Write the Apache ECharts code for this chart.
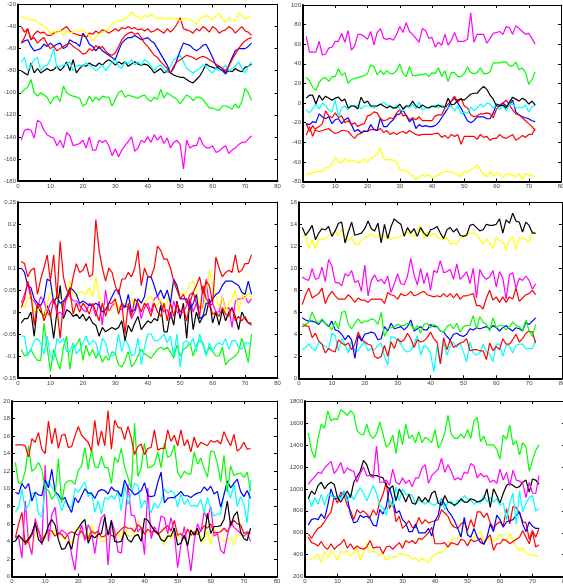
<!DOCTYPE html>
<html>
<head>
<meta charset="utf-8">
<script src="https://cdn.jsdelivr.net/npm/echarts@6.0.0/dist/echarts.min.js"></script>
<style>
  html, body { margin: 0; padding: 0; background: #fff; }
  #chart { width: 563px; height: 586px; }
</style>
</head>
<body>
<div id="chart"></div>
<script>
// panel 1 (top left)
var p1Yellow = [-31,-32,-33,-34,-34,-35,-38,-40,-42,-47,-44,-46,
  -43,-48,-44,-46,-45,-43,-45,-43,-46,-48,-53,-50,
  -47,-45,-44,-42,-38,-36,-35,-35,-33,-31,-27,-30,
  -31,-33,-30,-31,-29,-31,-33,-32,-33,-33,-32,-33,
  -33,-35,-33,-32,-34,-35,-38,-33,-31,-30,-32,-34,
  -30,-28,-33,-36,-32,-34,-35,-28,-30,-33,-32,-30]
var p1RedA = [-40,-45,-42,-52,-47,-44,-46,-45,-48,-48,-46,-45,
  -44,-42,-40,-44,-46,-47,-48,-48,-50,-46,-47,-44,
  -46,-43,-44,-46,-44,-42,-44,-41,-42,-40,-42,-41,
  -43,-42,-44,-42,-45,-44,-42,-44,-46,-42,-45,-42,
  -38,-32,-42,-43,-44,-46,-42,-44,-40,-42,-45,-40,
  -42,-46,-44,-43,-40,-42,-46,-43,-40,-44,-45,-48]
var p1RedB = [-55,-50,-42,-52,-50,-55,-52,-50,-56,-60,-58,-62,
  -60,-58,-56,-55,-58,-60,-62,-65,-64,-60,-62,-57,
  -60,-58,-62,-65,-66,-64,-58,-52,-48,-46,-45,-47,
  -46,-50,-55,-58,-62,-66,-68,-72,-75,-78,-82,-76,
  -72,-70,-68,-66,-67,-68,-70,-68,-67,-68,-70,-72,
  -74,-76,-78,-80,-76,-70,-65,-60,-56,-53,-51,-50]
var p1Blue = [-55,-53,-52,-58,-62,-61,-60,-56,-58,-55,-58,-56,
  -55,-60,-58,-52,-54,-55,-58,-46,-50,-56,-58,-62,
  -58,-62,-64,-66,-68,-70,-62,-55,-52,-50,-50,-48,
  -50,-52,-51,-50,-53,-55,-60,-65,-70,-75,-82,-78,
  -70,-62,-55,-56,-57,-60,-62,-60,-57,-56,-62,-68,
  -75,-78,-80,-83,-75,-68,-62,-60,-60,-60,-58,-55]
var p1Cyan = [-72,-68,-80,-75,-70,-68,-80,-76,-75,-70,-60,-78,
  -76,-75,-74,-72,-80,-76,-75,-76,-73,-75,-77,-80,
  -78,-75,-80,-76,-72,-70,-76,-78,-72,-74,-70,-75,
  -72,-75,-70,-72,-76,-80,-76,-75,-78,-82,-76,-70,
  -68,-66,-72,-78,-80,-82,-80,-78,-75,-76,-80,-82,
  -78,-80,-78,-75,-80,-78,-76,-72,-78,-82,-76,-72]
var p1Black = [-80,-82,-84,-73,-82,-78,-82,-80,-78,-80,-79,-76,
  -80,-77,-72,-80,-70,-82,-78,-75,-76,-73,-75,-76,
  -73,-75,-72,-70,-72,-75,-72,-74,-72,-76,-74,-72,
  -74,-75,-74,-75,-78,-82,-80,-78,-82,-80,-82,-84,
  -85,-86,-86,-88,-90,-91,-88,-85,-80,-74,-76,-77,
  -78,-76,-78,-82,-80,-81,-78,-80,-81,-77,-76,-74]
var p1Green = [-100,-97,-95,-88,-100,-103,-100,-102,-104,-110,-105,-103,
  -108,-94,-100,-102,-103,-104,-105,-112,-110,-103,-108,-104,
  -107,-103,-104,-104,-112,-106,-100,-98,-104,-102,-103,-104,
  -105,-103,-102,-106,-108,-104,-106,-97,-105,-100,-102,-104,
  -106,-110,-106,-102,-104,-107,-104,-104,-106,-110,-114,-114,
  -115,-116,-112,-112,-113,-115,-110,-114,-108,-96,-100,-107]
var p1Magenta = [-143,-134,-133,-134,-141,-125,-127,-134,-138,-140,-141,-148,
  -143,-150,-136,-139,-148,-147,-146,-143,-150,-140,-152,-152,
  -143,-145,-143,-148,-157,-151,-158,-152,-148,-144,-140,-153,
  -150,-143,-145,-140,-145,-138,-143,-139,-146,-141,-150,-145,
  -143,-147,-169,-143,-150,-148,-148,-140,-147,-150,-150,-148,
  -154,-153,-150,-148,-155,-152,-150,-147,-145,-145,-142,-139]

// panel 2 (top right)
var p2Magenta = [68,52,52,52,63,49,50,56,57,63,63,71,
  62,74,54,58,70,70,68,65,73,59,72,76,
  66,65,66,64,70,78,72,82,73,70,66,62,
  76,74,66,67,57,62,59,70,59,64,72,63,
  63,63,65,92,62,70,70,70,61,66,71,72,
  73,70,78,77,70,79,76,73,70,71,66,60]
var p2Green = [26,23,16,13,21,25,26,22,27,27,35,28,
  31,20,24,25,26,27,28,30,39,37,29,33,
  29,33,30,30,33,40,30,27,37,28,28,29,
  29,30,27,31,30,36,27,33,22,31,31,27,
  27,30,37,31,30,31,36,30,30,32,41,41,
  41,42,42,38,38,42,34,36,31,19,24,32]
var p2Black = [5,8,8,-1,8,3,7,5,3,5,6,2,
  4,-5,-3,-3,-6,6,0,2,-3,-3,-3,-1,
  -3,-5,-3,-5,-5,-1,-6,-3,-3,2,-3,-5,
  -2,-4,-5,-3,-4,-2,-4,-4,5,-2,-1,3,
  4,3,6,9,10,10,14,17,14,8,4,-3,
  -3,-2,-5,1,6,4,2,5,3,-1,2,-2]
var p2Cyan = [-7,-10,-6,-1,-6,0,-3,-7,-9,3,-14,-5,
  -3,-7,-2,-4,-2,-6,-3,-3,-3,-5,-3,-2,
  1,-2,-3,-6,-2,-6,-8,-3,-5,-1,-6,1,
  -7,-5,-5,-4,-2,-5,-2,-4,-5,-3,-8,-3,
  -11,-9,-11,-4,-8,-5,-1,-4,0,-1,-5,-2,
  -7,-2,-8,-1,-1,-5,-4,-5,-2,-9,-4,-2]
var p2RedA = [-33,-24,-34,-26,-24,-21,-8,-13,-15,-10,-15,-13,
  -20,-18,-22,-20,-24,-22,-21,-13,-12,-9,-10,-16,
  -18,-17,-15,-16,-10,-7,-13,-12,-17,-15,-17,-14,
  -18,-18,-18,-18,-13,-12,-12,-5,-1,2,7,1,
  5,-3,-5,-12,-14,-13,-11,-11,-10,-11,-15,-6,
  -3,0,3,-2,-7,-11,-12,-15,-18,-21,-24,-28]
var p2RedB = [-21,-29,-23,-28,-29,-28,-27,-26,-29,-31,-30,-28,
  -28,-29,-33,-36,-32,-31,-28,-29,-27,-27,-28,-26,
  -30,-28,-32,-30,-32,-30,-29,-31,-28,-30,-32,-33,
  -32,-32,-32,-32,-31,-31,-35,-33,-36,-32,-34,-32,
  -42,-34,-34,-34,-34,-37,-32,-35,-34,-38,-36,-36,
  -32,-35,-36,-34,-32,-38,-36,-33,-35,-32,-32,-26]
var p2Blue = [-21,-22,-19,-20,-11,-14,-16,-14,-21,-17,-16,-21,
  -17,-15,-22,-29,-27,-30,-29,-29,-22,-27,-28,-15,
  -24,-24,-20,-17,-12,-11,-7,-13,-19,-16,-26,-22,
  -24,-23,-24,-24,-23,-20,-15,-10,-5,2,5,0,
  -5,-12,-18,-20,-18,-14,-14,-14,-16,-16,-10,-1,
  -2,0,-3,-2,3,-9,-12,-14,-15,-16,-18,-19]
var p2Yellow = [-73,-72,-71,-70,-70,-70,-66,-66,-62,-55,-60,-61,
  -56,-60,-58,-59,-61,-60,-57,-60,-56,-55,-52,-46,
  -57,-58,-58,-58,-60,-68,-69,-69,-72,-74,-78,-76,
  -73,-75,-73,-76,-75,-73,-71,-70,-70,-70,-72,-73,
  -75,-69,-71,-68,-66,-63,-68,-73,-75,-70,-75,-71,
  -72,-76,-73,-72,-74,-75,-72,-78,-72,-73,-74,-75]

// panel 3 (middle left)
var p3RedA = [0.115,0.11,0.08,0.095,0.1,0.04,0.075,0.1,0.13,0.07,0.13,0.03,
  0.16,0.08,0.05,0.04,0.08,0.11,0.09,0.095,0.11,0.08,0.085,0.21,
  0.14,0.1,0.07,0.1,0.09,0.06,0.04,0.075,0.075,0.09,0.08,0.1,
  0.14,0.06,0.1,0.08,0.08,0.1,0.15,0.14,0.12,0.12,0.1,0.07,
  0.05,0.03,0.04,0.02,0.04,0.045,0.06,0.08,0.04,0.07,0.06,0.02,
  0.125,0.1,0.08,0.09,0.095,0.09,0.13,0.09,0.095,0.11,0.11,0.13]
var p3RedB = [0.01,0.03,0.07,0.04,-0.03,0.02,0.01,-0.02,0,-0.01,0.03,0.01,
  -0.06,0.02,0.03,0.05,-0.005,0.02,0,0.02,0.01,-0.005,0.02,0,
  -0.02,0.02,-0.01,0.02,0.02,0.03,-0.005,0.02,-0.05,0.02,-0.01,0.03,
  0.02,0,0.02,0.01,-0.01,0.02,0,-0.01,0.02,-0.02,0.02,-0.01,
  0.02,0,0.01,-0.02,0.02,0.045,0.02,-0.01,0.06,0.03,0.02,-0.005,
  0,-0.01,0.01,-0.005,-0.01,0.01,-0.02,-0.01,-0.02,-0.01,-0.025,-0.03]
var p3Blue = [0.1,0.09,0.06,0.055,0.03,0.02,0.015,0.03,0.075,0.07,0.02,0.035,
  0.02,0.025,0.035,0.055,0.05,0.04,0.02,0.025,0.02,0.015,0.015,0.02,
  0.015,0,0.005,0.02,0.035,0.05,0.05,0.02,0.01,0.04,0,0.005,
  0.03,0.02,0.035,0.08,0.08,0.06,0.035,0.05,0.03,0.05,0.02,0.075,
  0.06,0.03,0.03,0.03,0.005,0.02,0.04,-0.015,-0.01,0.02,0.02,0.03,
  0.04,0.045,0.06,0.07,0.07,0.07,0.065,0.06,0.045,0.04,0.07,0.04]
var p3Yellow = [0.02,0.01,0.03,0.04,0,0.005,0.01,-0.02,0.02,0.045,0.04,0.03,
  0.03,0.02,0.035,0.07,0.04,0.035,0.045,0.045,0.04,0.055,0.035,0.08,
  0.035,0.02,0.01,0,0.005,0.02,0.01,0.02,0.02,0.015,0.03,0.015,
  0.02,0.025,0.015,0.03,0.035,0.02,0.015,0.03,0.01,0.02,0.045,0.06,
  0.065,0.04,0.04,0.045,0.065,0.07,0.05,0.015,0.005,0.045,0.095,0.06,
  0.04,0.01,0.035,0,0.02,0.03,0.05,0,0.04,0.03,0.045,0.03]
var p3Magenta = [0.02,0.04,0.065,0.03,0.025,0.01,0.035,0.025,0,0.02,0.03,-0.005,
  0,-0.01,0.04,0.035,0.025,0.025,0.015,0.005,0,0.02,0.015,-0.01,
  0.025,-0.03,0.05,0,0.015,0.02,0.01,0.005,0.015,0.01,-0.015,0,
  0.02,-0.015,0.01,0.02,0,0.03,0.035,0.02,0,0.005,-0.015,0.025,
  0,-0.005,0,0.015,0.03,0,0.02,0.01,0.01,0.075,0.01,0.02,
  0,0,0.035,0.005,0.01,-0.035,0.025,0.03,0.03,0.035,0.02,0.03]
var p3Black = [-0.025,-0.015,-0.015,0,-0.055,0.015,0,-0.01,0.015,-0.005,-0.06,0,
  0.06,-0.015,0.005,0,-0.01,-0.005,-0.015,-0.005,-0.02,-0.01,-0.025,-0.03,
  -0.055,-0.035,-0.045,-0.04,-0.035,-0.04,-0.035,-0.02,-0.065,-0.03,-0.045,-0.025,
  -0.01,-0.04,-0.03,-0.02,-0.025,-0.015,-0.02,0.015,-0.045,-0.045,0,-0.03,
  0.025,-0.015,0.02,-0.06,0.03,-0.04,0,-0.025,-0.01,-0.005,0.03,-0.025,
  0,-0.03,0.005,-0.02,0,0.01,-0.01,-0.04,0,-0.015,-0.025,-0.025]
var p3Cyan = [-0.055,-0.055,-0.1,-0.085,-0.065,-0.06,-0.07,-0.095,-0.055,-0.1,-0.11,-0.06,
  -0.07,-0.06,-0.09,-0.09,-0.07,-0.095,-0.085,-0.07,-0.055,-0.075,-0.065,-0.07,
  -0.1,-0.06,-0.07,-0.1,-0.1,-0.095,-0.05,-0.09,-0.06,-0.075,-0.1,-0.095,
  -0.06,-0.12,-0.08,-0.05,-0.05,-0.065,-0.065,-0.06,-0.05,-0.07,-0.055,-0.1,
  -0.05,-0.125,-0.07,-0.065,-0.075,-0.06,-0.09,-0.05,-0.075,-0.1,-0.07,-0.09,
  -0.075,-0.07,-0.075,-0.06,-0.085,-0.065,-0.065,-0.08,-0.085,-0.07,-0.07,-0.075]
var p3Green = [-0.085,-0.1,-0.095,-0.085,-0.1,-0.11,-0.11,-0.025,-0.08,-0.135,-0.085,-0.11,
  -0.13,-0.08,-0.055,-0.13,-0.08,-0.075,-0.06,-0.11,-0.075,-0.1,-0.085,-0.105,
  -0.09,-0.115,-0.1,-0.11,-0.09,-0.095,-0.12,-0.125,-0.11,-0.09,-0.125,-0.115,
  -0.1,-0.085,-0.095,-0.1,-0.105,-0.095,-0.085,-0.08,-0.085,-0.08,-0.09,-0.105,
  -0.075,-0.1,-0.085,-0.08,-0.07,-0.1,-0.075,-0.065,-0.07,-0.095,-0.08,-0.09,
  -0.1,-0.1,-0.08,-0.12,-0.11,-0.105,-0.1,-0.09,-0.06,-0.085,-0.115,-0.05]

// panel 4 (middle right)
var p4Black = [13.7,13.0,13.4,13.9,12.6,13.2,13.6,13.5,13.8,12.9,13.4,14.1,
  14.2,12.3,13.3,14.2,13.0,13.1,13.2,13.6,14.3,13.6,13.4,14.1,
  12.3,14.0,12.7,13.8,14.5,14.2,14.0,12.9,13.7,13.2,13.6,12.9,
  13.7,13.2,12.9,13.5,13.6,13.8,13.2,12.7,13.5,13.7,13.3,13.6,
  13.0,12.9,13.0,13.9,14.0,13.7,13.4,13.5,14.0,13.9,13.9,14.0,
  14.5,13.2,14.4,14.1,15.0,14.3,14.2,13.3,14.2,13.9,13.2,13.2]
var p4Yellow = [12.9,13.0,11.8,12.6,11.8,12.6,12.6,12.7,13.0,13.1,13.4,13.0,
  13.6,12.9,12.5,12.8,12.2,12.1,12.5,12.8,12.9,13.2,12.8,12.9,
  13.1,12.8,13.0,12.6,12.8,12.8,12.9,13.2,13.3,13.0,12.9,13.4,
  13.9,12.7,13.3,12.9,13.2,12.9,12.6,12.6,12.8,12.2,12.3,12.2,
  12.7,12.8,13.2,13.2,13.2,13.1,12.6,12.2,12.7,12.3,11.8,12.8,
  12.5,12.4,11.7,12.6,12.9,11.7,12.8,12.7,12.6,12.4,13.3,13.1]
var p4Magenta = [9.2,9.0,8.9,10.0,9.0,9.1,10.1,8.8,10.8,10.2,8.7,8.7,
  8.4,9.5,9.3,9.8,8.7,8.9,7.9,10.3,7.5,8.9,9.4,8.8,
  9.0,8.6,9.3,7.8,8.6,9.5,8.6,8.5,9.3,10.9,9.4,8.5,
  10.0,8.6,9.6,8.0,9.8,9.6,10.7,9.6,9.7,9.9,9.0,10.4,
  9.0,9.3,9.7,8.6,10.0,7.3,9.9,9.3,9.0,9.2,9.8,8.3,
  9.7,9.1,7.2,9.4,9.6,8.2,9.1,8.9,9.3,8.9,8.1,8.6]
var p4RedA = [6.7,7.6,8.2,7.3,7.5,7.7,8.2,6.8,7.5,7.9,7.5,7.2,
  7.2,7.2,7.6,7.3,6.9,7.3,7.1,7.1,6.9,7.2,7.2,7.2,
  7.2,6.8,7.8,7.6,7.5,7.2,7.7,7.5,7.6,7.9,7.5,7.6,
  7.8,7.9,7.6,7.5,7.4,7.5,7.4,7.7,7.4,7.7,7.3,7.7,
  7.2,7.5,7.5,7.6,7.7,6.6,6.6,6.3,7.3,8.0,7.1,7.4,
  6.9,7.4,6.9,7.4,7.2,8.2,7.0,7.3,7.6,7.7,8.0,7.6]
var p4Green = [4.9,4.9,5.1,6.0,5.3,5.0,5.4,5.0,4.8,4.4,5.2,4.5,
  6.0,6.1,4.9,4.5,5.0,5.4,5.0,5.2,5.2,5.4,5.3,4.9,
  6.0,3.8,4.5,4.6,4.7,4.9,4.8,4.8,5.0,4.9,4.4,4.8,
  4.1,4.9,5.0,4.6,4.9,4.7,4.3,4.2,4.7,4.9,4.5,5.0,
  4.2,4.7,4.8,4.8,5.7,4.5,5.6,5.1,4.9,4.3,5.5,4.6,
  4.8,4.8,4.4,4.7,5.1,4.8,4.7,4.3,5.3,4.3,3.8,4.9]
var p4Blue = [5.5,5.3,5.2,5.2,5.1,4.9,5.3,5.0,4.7,5.2,4.4,4.3,
  4.0,3.5,3.9,3.5,1.8,3.9,3.4,4.0,4.1,4.2,4.1,3.5,
  3.6,4.7,4.3,5.0,4.5,4.6,4.7,4.4,4.7,5.3,4.3,4.5,
  4.7,4.4,4.4,4.9,4.7,4.7,4.3,4.2,3.8,3.5,4.0,4.1,
  3.9,3.8,4.0,4.5,4.4,4.6,4.5,4.6,4.7,4.5,4.8,4.6,
  4.3,4.6,4.8,4.5,4.3,4.6,4.5,4.3,5.1,4.9,5.2,5.5]
var p4RedB = [4.7,4.8,4.7,3.7,4.1,3.4,3.1,2.3,2.7,2.5,2.4,3.5,
  3.2,3.0,3.2,2.6,3.1,4.2,3.5,3.3,3.1,3.0,2.0,1.8,
  2.0,3.0,2.0,3.3,2.7,3.6,3.3,3.5,4.1,3.6,2.8,3.5,
  3.3,3.4,3.7,4.2,3.6,3.3,1.3,3.7,2.6,3.5,2.8,3.0,
  3.2,3.3,3.6,2.5,2.6,2.6,2.5,2.5,1.7,3.2,2.5,2.9,
  2.6,3.6,3.1,3.1,3.5,4.0,3.3,3.6,4.1,4.3,4.2,3.2]
var p4Cyan = [2.6,2.8,3.1,2.7,2.5,3.3,3.1,2.9,2.6,4.1,3.9,2.5,
  3.6,3.1,2.3,3.4,2.5,2.5,3.0,3.3,2.5,2.7,2.6,3.0,
  3.2,2.0,1.2,3.8,3.7,3.5,3.1,2.6,2.4,2.5,3.1,3.9,
  2.1,3.0,2.8,2.3,0.6,2.9,1.3,3.3,2.1,2.9,3.3,2.8,
  3.2,2.4,1.5,3.3,2.3,2.1,2.3,3.1,2.4,2.2,1.5,3.1,
  3.1,2.0,3.0,2.9,2.3,3.0,3.1,3.1,2.7,2.7,2.7,3.5]

// panel 5 (bottom left)
var p5RedA = [15.0,15.0,15.0,14.9,13.6,15.7,15.3,16.4,14.5,14.0,17.7,15.1,
  16.9,14.6,16.1,16.2,14.7,14.8,16.0,17.1,16.1,15.7,15.3,14.3,
  17.8,14.9,16.6,14.9,18.9,14.5,17.8,17.0,16.9,15.6,17.1,15.8,
  13.9,14.8,15.1,13.9,14.6,14.7,16.7,14.4,14.6,14.6,16.7,15.4,
  16.1,14.9,16.7,14.9,15.6,14.2,15.9,14.7,15.3,15.1,14.9,15.5,
  15.3,15.5,15.1,16.5,15.6,14.9,16.2,14.3,14.6,15.3,14.5,14.6]
var p5Green = [13.0,10.6,10.7,12.0,14.9,12.0,12.3,13.0,12.2,10.0,9.8,8.8,
  9.3,13.4,8.4,10.6,10.9,10.9,10.5,12.1,12.6,14.7,12.2,14.5,
  12.5,12.4,13.7,12.4,12.4,10.6,13.6,13.0,14.6,12.5,11.3,10.0,
  17.5,11.4,12.4,15.2,12.4,12.5,12.8,14.2,12.4,15.2,13.6,13.8,
  15.0,11.9,11.2,12.0,11.7,11.7,14.2,12.8,13.5,12.3,11.3,14.3,
  14.2,12.9,10.8,13.8,9.6,12.6,11.5,11.7,11.8,11.3,11.9,9.8]
var p5Blue = [9.6,9.4,10.6,10.0,10.6,8.6,9.6,9.3,9.2,11.0,10.1,12.2,
  9.7,9.3,8.7,9.0,8.0,7.3,9.0,8.4,9.2,10.0,9.5,9.5,
  8.9,9.7,9.9,9.8,9.4,10.2,9.8,9.7,9.1,11.0,10.1,9.8,
  9.3,9.5,9.8,10.7,9.2,9.1,9.2,10.7,11.9,8.4,8.9,9.0,
  9.0,9.3,9.7,9.2,9.2,9.0,9.3,9.5,9.6,10.2,9.8,10.3,
  9.4,9.7,7.9,9.3,10.9,10.1,10.6,11.1,9.7,9.1,9.8,8.9]
var p5Cyan = [7.3,7.9,9.9,7.6,8.1,9.4,9.6,7.1,6.8,9.8,10.9,10.2,
  9.6,8.8,7.5,8.6,8.2,7.8,10.0,9.6,10.2,10.8,9.1,9.6,
  7.3,8.6,7.1,9.0,8.8,9.2,8.8,9.8,7.5,10.5,8.2,9.5,
  10.6,10.4,7.8,8.7,7.9,7.3,8.4,7.8,8.5,10.0,9.5,9.8,
  9.5,7.9,9.4,8.2,8.8,8.0,8.1,8.0,8.8,7.3,9.0,7.7,
  6.9,7.1,7.1,9.6,10.1,8.9,10.6,8.0,9.1,8.3,6.1,11.0]
var p5Magenta = [4.6,4.4,2.1,8.6,3.9,2.5,6.6,5.3,3.6,12.7,4.0,7.0,
  7.9,4.7,5.3,5.0,4.6,2.5,0.7,4.4,5.9,4.1,5.9,5.1,
  2.6,5.2,6.7,7.1,1.3,6.4,5.2,2.8,2.7,6.0,10.5,7.0,
  6.9,5.1,5.6,2.5,10.1,4.3,5.7,4.8,6.9,6.7,4.9,6.7,
  5.0,1.0,3.6,5.7,3.3,0.6,4.0,6.0,5.1,7.3,6.6,8.0,
  4.6,4.9,3.0,2.6,4.6,6.3,5.6,5.3,4.9,4.6,5.0,4.0]
var p5Black = [4.0,4.7,4.3,3.9,4.3,4.9,6.1,4.2,3.8,4.6,5.8,6.5,
  5.9,4.2,3.1,3.2,4.0,3.1,5.0,5.5,6.1,6.5,3.8,4.7,
  4.4,4.8,4.9,6.8,4.7,6.4,4.0,3.9,4.0,5.1,4.2,3.9,
  4.6,4.8,4.0,6.6,6.4,5.8,5.2,5.0,4.2,4.0,4.6,4.6,
  5.5,3.6,3.8,4.7,3.5,5.3,4.7,5.5,4.0,4.5,7.2,4.9,
  5.7,5.7,5.8,6.5,8.6,5.8,6.9,7.4,5.1,4.3,4.1,5.5]
var p5RedB = [4.4,6.0,7.3,3.6,4.1,4.7,5.9,5.2,4.2,4.7,5.3,5.2,
  4.6,5.0,4.8,4.3,4.9,5.1,4.9,4.7,5.2,4.5,4.3,5.2,
  4.9,5.2,4.5,4.6,5.1,4.7,4.5,5.0,5.4,5.7,5.5,5.5,
  5.1,5.9,5.6,4.8,5.4,5.0,5.2,4.8,5.1,5.5,5.8,5.2,
  6.4,4.7,4.9,4.3,5.4,4.7,5.1,4.8,5.2,5.8,5.5,6.0,
  5.0,5.0,5.1,5.5,5.1,5.8,6.4,6.0,5.9,4.9,5.1,4.9]
var p5Yellow = [4.6,4.3,4.0,3.6,4.3,2.5,4.9,5.3,5.0,4.5,4.2,5.0,
  5.2,4.6,4.7,4.2,4.1,3.8,5.0,5.7,4.8,4.2,4.4,5.9,
  4.8,4.6,4.0,4.0,4.2,4.7,4.9,5.0,4.3,5.9,4.6,4.6,
  4.9,6.4,4.9,5.2,5.0,5.2,5.1,4.9,4.4,3.6,5.0,4.3,
  4.9,4.5,4.7,4.4,3.7,5.3,4.9,5.2,4.6,3.9,5.2,3.6,
  5.5,4.8,4.4,4.0,4.2,4.4,3.6,4.7,4.7,4.6,4.5,4.4]

// panel 6 (bottom right)
var p6Green = [1510,1350,1280,1460,1590,1550,1710,1620,1640,1630,1720,1700,
  1670,1710,1680,1530,1500,1490,1590,1490,1460,1500,1610,1500,
  1380,1410,1490,1320,1540,1400,1590,1460,1490,1420,1520,1420,
  1470,1450,1420,1540,1370,1420,1510,1670,1500,1460,1460,1500,
  1460,1540,1460,1620,1650,1430,1480,1400,1400,1400,1360,1270,
  1490,1450,1580,1400,1440,1310,1420,1380,1160,1260,1350,1400]
var p6Magenta = [1040,1080,1110,1150,1140,1190,1220,1250,1140,1180,1240,1140,
  1190,1170,1160,1060,1140,1200,1120,1120,1100,1390,1060,1060,
  1080,1030,1180,1060,1040,1100,1050,1080,1020,1100,1100,1190,
  1220,1050,1120,1150,1180,1280,1150,1220,1160,1080,1100,1080,
  1150,1140,1230,1210,1100,1140,1110,1120,1060,1080,1050,1180,
  1080,1150,1030,1170,1080,1070,1050,920,1060,960,960,1120]
var p6Black = [910,980,950,1030,1060,1000,1040,1060,1040,920,880,930,
  980,920,1060,1110,1160,1260,1220,1130,1120,1120,1110,1100,
  1030,1000,1030,890,1000,950,880,950,870,860,930,880,
  920,880,960,980,870,850,940,880,870,850,870,910,
  880,880,910,900,880,890,910,1000,830,1000,940,870,
  960,1030,1050,1030,1010,1020,1060,1080,970,1090,1080,1040]
var p6Cyan = [930,840,920,860,950,850,950,940,920,940,910,980,
  890,960,900,960,1010,960,890,960,1030,960,850,830,
  760,900,830,1020,890,1000,950,950,940,860,900,880,
  860,890,860,850,880,900,810,880,890,840,900,880,
  940,910,900,860,880,870,940,880,920,880,910,850,
  870,720,870,960,680,980,790,870,920,940,800,820]
var p6Blue = [670,720,730,720,770,730,850,1000,910,910,930,980,
  920,770,690,700,760,740,750,730,670,660,810,770,
  840,1010,900,780,800,720,690,610,610,680,600,600,
  600,640,570,710,760,910,860,800,760,710,640,560,
  740,580,560,640,560,510,500,560,680,610,760,720,
  650,700,710,720,760,790,680,610,700,660,640,640]
var p6RedA = [590,550,600,640,660,700,750,790,930,870,970,950,
  850,800,720,810,780,800,770,740,810,760,880,950,
  1060,820,890,700,750,640,670,710,650,650,740,680,
  720,690,700,710,720,810,780,750,680,650,640,680,
  700,620,720,650,790,790,740,780,690,640,680,700,
  660,820,680,840,830,780,700,690,540,620,560,640]
var p6RedB = [560,510,500,480,520,470,450,500,450,480,500,540,
  460,500,450,480,460,450,470,530,460,470,470,410,
  470,480,450,480,510,460,530,510,530,500,550,540,
  570,600,650,500,500,500,510,470,510,500,490,540,
  530,480,540,520,530,550,490,550,580,440,500,500,
  540,530,500,520,540,560,620,560,500,610,470,490]
var p6Yellow = [350,360,380,400,330,430,370,430,400,350,430,420,
  430,390,420,470,350,410,510,420,430,420,390,410,
  350,370,380,380,410,410,400,390,360,370,340,370,
  350,330,380,400,420,420,440,480,530,550,550,600,
  700,620,560,560,590,610,530,540,550,520,540,590,
  530,530,600,530,470,440,460,410,400,400,390,380]

// matlab style colours
var Y = '#ffff00', R = '#ff0000', B = '#0000ff', C = '#00ffff'
var K = '#000000', G = '#00ff00', M = '#ff00ff'

// box = [left, top, width, height]
var panels = [
  { box: [18, 4.5, 259.5, 176.5], min: -180, max: -20, step: 20,
    lines: [[p1Magenta, M], [p1Green, G], [p1Black, K], [p1Cyan, C], [p1Blue, B], [p1RedB, R], [p1RedA, R], [p1Yellow, Y]] },
  { box: [303, 5, 258, 176.5], min: -80, max: 100, step: 20,
    lines: [[p2Yellow, Y], [p2RedB, R], [p2Blue, B], [p2RedA, R], [p2Cyan, C], [p2Black, K], [p2Green, G], [p2Magenta, M]] },
  { box: [18, 202, 259.5, 176], min: -0.15, max: 0.25, step: 0.05,
    lines: [[p3Green, G], [p3Cyan, C], [p3Black, K], [p3Magenta, M], [p3Yellow, Y], [p3Blue, B], [p3RedB, R], [p3RedA, R]] },
  { box: [299, 202.3, 263, 176], min: 0, max: 16, step: 2,
    lines: [[p4Cyan, C], [p4RedB, R], [p4Blue, B], [p4Green, G], [p4RedA, R], [p4Magenta, M], [p4Yellow, Y], [p4Black, K]] },
  { box: [12, 401, 265, 175.5], min: 0, max: 20, step: 2,
    lines: [[p5Yellow, Y], [p5RedB, R], [p5Magenta, M], [p5Black, K], [p5Cyan, C], [p5Blue, B], [p5Green, G], [p5RedA, R]] },
  { box: [305, 401, 260, 175.7], min: 200, max: 1800, step: 200,
    lines: [[p6Yellow, Y], [p6RedB, R], [p6RedA, R], [p6Blue, B], [p6Cyan, C], [p6Black, K], [p6Magenta, M], [p6Green, G]] }
]

// plain tick text, no thousands separator
function tickText(v) {
  return String(+v.toFixed(4))
}

// one axis of the box; main = labelled thick side
function makeAxis(gi, pos, min, max, step, main) {
  return {
    type: 'value', gridIndex: gi, position: pos,
    min: min, max: max, interval: step,
    axisLine: { show: true, onZero: false, lineStyle: { color: '#000', width: main ? 2 : 1 } },
    axisTick: { show: true, inside: true, length: 3, lineStyle: { color: '#000', width: 1 } },
    axisLabel: { show: main, fontSize: 6, color: '#444', margin: 2, fontFamily: 'Liberation Sans', formatter: tickText },
    splitLine: { show: false }
  }
}

var grid = [], xAxis = [], yAxis = [], series = []
panels.forEach(function (p, i) {
  grid.push({ left: p.box[0], top: p.box[1], width: p.box[2], height: p.box[3], outerBoundsMode: 'none', containLabel: false })
  xAxis.push(makeAxis(i, 'bottom', 0, 80, 10, true))
  xAxis.push(makeAxis(i, 'top', 0, 80, 10, false))
  yAxis.push(makeAxis(i, 'left', p.min, p.max, p.step, true))
  yAxis.push(makeAxis(i, 'right', p.min, p.max, p.step, false))
  p.lines.forEach(function (l) {
    series.push({
      type: 'line', xAxisIndex: 2 * i, yAxisIndex: 2 * i,
      data: l[0].map(function (v, k) { return [k + 1, v] }),
      symbol: 'none', silent: true,
      lineStyle: { color: l[1], width: 1.2 }
    })
  })
})

var myChart = echarts.init(document.getElementById('chart'), null, { renderer: 'canvas' })
myChart.setOption({
  animation: false,
  backgroundColor: '#fff',
  grid: grid,
  xAxis: xAxis,
  yAxis: yAxis,
  series: series
})
</script>
</body>
</html>
